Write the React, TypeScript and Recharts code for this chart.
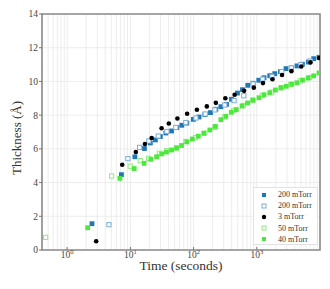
import React from "react";
import {
  CartesianGrid,
  Legend,
  ReferenceArea,
  Scatter,
  ScatterChart,
  XAxis,
  YAxis,
} from "recharts";

// time (s) / thickness (Å)
const blue200FilledT = [2.47, 7.22, 11.8, 16.7, 20.7, 24.9, 29.8, 36.4, 44.8, 54.4, 65.2, 78.2, 99.1, 122, 151, 185, 225, 270, 332, 398, 495, 594, 720, 873, 1075, 1303, 1604, 1924, 2367, 2902, 3532, 4330, 5270, 6556, 7954, 9641];
const blue200FilledV = [1.56, 4.47, 5.53, 6.02, 6.35, 6.53, 6.73, 6.94, 7.06, 7.26, 7.4, 7.53, 7.75, 7.89, 8.03, 8.15, 8.35, 8.5, 8.64, 8.94, 9.31, 9.51, 9.77, 9.89, 10.07, 10.22, 10.34, 10.46, 10.58, 10.76, 10.8, 10.92, 11.02, 11.15, 11.35, 11.43];

const blue200OpenT = [4.58, 9.14, 14.0, 19.6, 27.7, 37.8, 52.4, 75.4, 109, 153, 217, 312, 437, 623, 873, 1243, 1743, 2481, 3507, 4955, 7000];
const blue200OpenV = [1.5, 5.42, 6.09, 6.47, 6.76, 7.03, 7.27, 7.56, 7.83, 8.07, 8.31, 8.6, 8.86, 9.15, 9.85, 10.14, 10.3, 10.59, 10.8, 11.0, 11.21];

const black3T = [2.88, 7.43, 12.2, 17.0, 21.7, 31.2, 40.6, 55.4, 79.1, 113, 162, 225, 318, 446, 630, 896, 1252, 1769, 2509, 3532, 5046, 7052, 9712];
const black3V = [0.52, 5.06, 5.81, 6.29, 6.64, 7.22, 7.5, 7.8, 8.08, 8.32, 8.52, 8.73, 9.0, 9.21, 9.44, 9.63, 9.9, 10.13, 10.38, 10.61, 10.89, 11.13, 11.39];

const green50OpenT = [0.457, 5.05, 9.94, 14.3, 19.4, 28.8, 37.8, 53.4, 75.4, 107, 151, 217, 306, 433, 611, 864, 1221, 1725, 2437, 3443, 4864, 6874];
const green50OpenV = [0.75, 4.39, 4.97, 5.3, 5.44, 5.74, 5.9, 6.05, 6.44, 6.67, 6.94, 7.27, 7.89, 8.28, 8.57, 8.87, 9.17, 9.37, 9.61, 9.82, 10.03, 10.23];

const green40FilledT = [2.11, 6.83, 11.5, 16.5, 21.1, 26.0, 31.2, 37.1, 44.8, 53.8, 64.5, 78.2, 95.6, 119, 145, 181, 221, 270, 323, 395, 474, 585, 715, 873, 1082, 1303, 1604, 1974, 2411, 2923, 3571, 4330, 5289, 6509, 7954, 9641];
const green40FilledV = [1.32, 4.25, 4.83, 5.14, 5.38, 5.53, 5.7, 5.81, 5.93, 6.05, 6.2, 6.41, 6.58, 6.75, 6.92, 7.12, 7.33, 7.73, 7.93, 8.17, 8.33, 8.54, 8.72, 8.9, 9.03, 9.21, 9.33, 9.49, 9.63, 9.71, 9.84, 9.92, 10.08, 10.2, 10.33, 10.5];

const yTicks = [0, 2, 4, 6, 8, 10, 12, 14];
const decades = [1, 10, 100, 1000];

const FONT = "'Liberation Serif', 'Times New Roman', serif";
const BLUE = "#1f77b4";
const BLUE_LIGHT = "#7aaedb";
const GREEN = "#4de83c";
const GREEN_LIGHT = "#8cee7c";

// log gridlines: 1..9 in each decade
const xTicks: number[] = [];
[0.1, 1, 10, 100, 1000].forEach((d) => {
  for (let k = 1; k <= 9; k++) {
    const v = +(k * d).toPrecision(3);
    if (v >= 0.4 && v <= 10000) xTicks.push(v);
  }
});

const zip = (t: number[], v: number[]) => t.map((x, i) => ({ t: x, v: v[i] }));

const series = [
  { name: "200 mTorr", data: zip(blue200FilledT, blue200FilledV), kind: "sq", fill: BLUE, stroke: BLUE },
  { name: "200 mTorr", data: zip(blue200OpenT, blue200OpenV), kind: "sq", fill: "#fff", stroke: BLUE_LIGHT },
  { name: "3 mTorr", data: zip(black3T, black3V), kind: "dot", fill: "#000", stroke: "#000" },
  { name: "50 mTorr", data: zip(green50OpenT, green50OpenV), kind: "sq", fill: "#fff", stroke: GREEN_LIGHT },
  { name: "40 mTorr", data: zip(green40FilledT, green40FilledV), kind: "sq", fill: GREEN, stroke: GREEN },
];

const marker = (kind: string, fill: string, stroke: string) => (p: any) => {
  if (p.cx == null || p.cy == null) return <g />;
  if (kind === "dot") return <circle cx={p.cx} cy={p.cy} r={2.3} fill={fill} />;
  const open = fill === "#fff";
  const s = open ? 4.2 : 4.8;
  return (
    <rect
      x={p.cx - s / 2}
      y={p.cy - s / 2}
      width={s}
      height={s}
      fill={fill}
      stroke={open ? stroke : "none"}
      strokeWidth={1}
    />
  );
};

const XTick = (props: any) => {
  const { x, y, payload } = props;
  if (!decades.includes(payload.value)) return <g />;
  const exp = Math.round(Math.log10(payload.value));
  return (
    <g>
      <line x1={x} x2={x} y1={y - 5} y2={y - 2} stroke="#777" />
      <text x={x} y={y + 6.3} textAnchor="middle" fontFamily={FONT} fontSize={9.5} fill="#444">
        <tspan>10</tspan>
        <tspan dy={-4.5} fontSize={6.5}>{exp}</tspan>
      </text>
    </g>
  );
};

const LegendBox = () => (
  <div
    style={{
      width: 65,
      height: 58,
      boxSizing: "border-box",
      border: "1px solid #e2e2e2",
      background: "#fff",
      paddingTop: 1,
      fontFamily: FONT,
      fontSize: 8,
      color: "#333",
    }}
  >
    {series.map((s, i) => (
      <div key={i} style={{ height: 11.2, display: "flex", alignItems: "center" }}>
        <svg width={20} height={8} style={{ marginLeft: 5 }}>
          {s.kind === "dot" ? (
            <circle cx={5} cy={4} r={2.2} fill="#000" />
          ) : (
            <rect
              x={3}
              y={2}
              width={4}
              height={4}
              fill={s.fill}
              stroke={s.fill === "#fff" ? s.stroke : "none"}
            />
          )}
        </svg>
        <span style={{ marginLeft: -1 }}>{s.name}</span>
      </div>
    ))}
  </div>
);

export default function App() {
  return (
    <div style={{ position: "absolute", left: 0, top: 0, width: 330, height: 289, background: "#fff" }}>
      <ScatterChart width={330} height={289} margin={{ top: 14, right: 10, bottom: 0, left: 0 }}>
        <CartesianGrid stroke="#e8e8e8" strokeWidth={0.8} />
        <XAxis
          dataKey="t"
          type="number"
          scale="log"
          domain={[0.4, 10000]}
          allowDataOverflow
          ticks={xTicks}
          interval={0}
          tick={<XTick />}
          tickLine={false}
          axisLine={false}
          tickSize={0}
          height={39}
          label={
            <text x={181} y={275} textAnchor="middle" fontFamily={FONT} fontSize={13.5} fill="#333">
              Time (seconds)
            </text>
          }
        />
        <YAxis
          dataKey="v"
          type="number"
          domain={[0, 14]}
          ticks={yTicks}
          interval={0}
          width={42}
          axisLine={false}
          tickSize={3}
          tickMargin={1}
          tickLine={{ stroke: "#777" }}
          tick={{ fontFamily: FONT, fontSize: 9.5, fill: "#444" }}
          label={
            <text
              x={24}
              y={135}
              transform="rotate(-90 24 135)"
              textAnchor="middle"
              fontFamily={FONT}
              fontSize={13}
              fill="#333"
            >
              Thickness (Å)
            </text>
          }
        />
        <ReferenceArea
          x1={0.4}
          x2={10000}
          y1={0}
          y2={14}
          fill="none"
          stroke="#8a8a8a"
          strokeWidth={1.6}
          ifOverflow="visible"
        />
        {series.map((s, i) => (
          <Scatter
            key={i}
            name={s.name}
            data={s.data}
            shape={marker(s.kind, s.fill, s.stroke)}
            isAnimationActive={false}
          />
        ))}
        <Legend
          layout="horizontal"
          verticalAlign="middle"
          align="center"
          content={<LegendBox />}
          wrapperStyle={{ left: 253, top: 187, width: 65, height: 58 }}
        />
      </ScatterChart>
    </div>
  );
}
